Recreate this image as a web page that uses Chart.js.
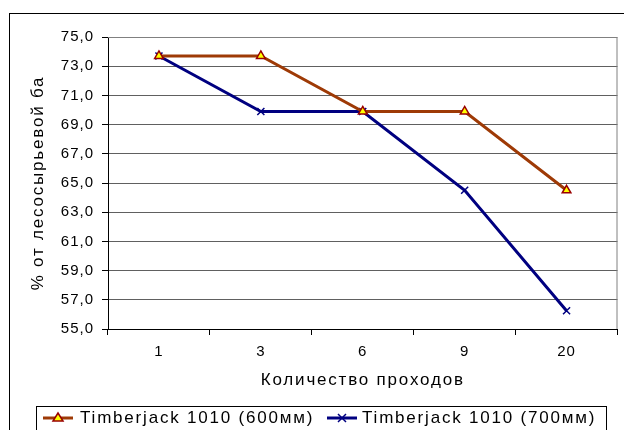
<!DOCTYPE html>
<html>
<head>
<meta charset="utf-8">
<script src="https://cdn.jsdelivr.net/npm/chart.js@4"></script>
<style>
    html, body { margin: 0; padding: 0; background: #fff; }
    #chart { display: block; }
</style>
</head>
<body>
<canvas id="chart" width="624" height="430"></canvas>
<script>
const categories = ['1', '3', '6', '9', '20'];
const series600 = [73.7, 73.7, 69.9, 69.9, 64.5];
const series700 = [73.7, 69.9, 69.9, 64.5, 56.25];
const seriesNames = ['Timberjack 1010 (600мм)', 'Timberjack 1010 (700мм)'];
const yTitle = '% от лесосырьевой ба';
const xTitle = 'Количество проходов';

const FONT = 'Arial, "Liberation Sans", sans-serif';
const ORANGE = '#9E3A06';
const NAVY = '#000080';

// wide-spaced text like the original Excel picture
const spacing = {
    id: 'spacing',
    beforeDraw(chart) {
        chart.ctx.letterSpacing = '1px';
    }
};

// axis titles, legend and the frames round the chart
const decorations = {
    id: 'decorations',
    afterDraw(chart) {
        const ctx = chart.ctx;
        const a = chart.chartArea;
        ctx.save();
        ctx.strokeStyle = '#000';
        ctx.lineWidth = 1;
        ctx.strokeRect(9.5, 13.5, 640, 440);
        ctx.strokeRect(36.5, 406.5, 570, 30);

        // plot area frame on top and right
        ctx.strokeStyle = '#808080';
        ctx.beginPath();
        ctx.moveTo(a.left, a.top + 0.5);
        ctx.lineTo(a.right - 0.5, a.top + 0.5);
        ctx.lineTo(a.right - 0.5, a.bottom);
        ctx.stroke();

        ctx.fillStyle = '#000';
        ctx.font = '17px ' + FONT;
        ctx.letterSpacing = '1.8px';
        ctx.textBaseline = 'middle';
        ctx.textAlign = 'center';
        ctx.fillText(xTitle, (a.left + a.right) / 2, 380);

        ctx.save();
        ctx.translate(38, (a.top + a.bottom) / 2);
        ctx.rotate(-Math.PI / 2);
        ctx.fillText(yTitle, 0, 0);
        ctx.restore();

        const y = 418;
        const items = [
            { x0: 43, x1: 73, tx: 80, color: ORANGE, name: seriesNames[0], marker: 'tri' },
            { x0: 327, x1: 357, tx: 362, color: NAVY, name: seriesNames[1], marker: 'cross' }
        ];
        items.forEach(it => {
            ctx.strokeStyle = it.color;
            ctx.lineWidth = 3;
            ctx.beginPath();
            ctx.moveTo(it.x0, y);
            ctx.lineTo(it.x1, y);
            ctx.stroke();
            const cx = (it.x0 + it.x1) / 2;
            if (it.marker === 'tri') {
                ctx.beginPath();
                ctx.moveTo(cx, y - 5);
                ctx.lineTo(cx + 5, y + 3);
                ctx.lineTo(cx - 5, y + 3);
                ctx.closePath();
                ctx.fillStyle = '#FFFF00';
                ctx.fill();
                ctx.strokeStyle = '#990000';
                ctx.lineWidth = 1.5;
                ctx.stroke();
            } else {
                ctx.lineWidth = 1.5;
                ctx.beginPath();
                ctx.moveTo(cx - 4, y - 4);
                ctx.lineTo(cx + 4, y + 4);
                ctx.moveTo(cx + 4, y - 4);
                ctx.lineTo(cx - 4, y + 4);
                ctx.stroke();
            }
            ctx.fillStyle = '#000';
            ctx.textAlign = 'left';
            ctx.fillText(it.name, it.tx, y);
        });
        ctx.restore();
    }
};

new Chart(document.getElementById('chart'), {
    type: 'line',
    data: {
        labels: categories,
        datasets: [
            {
                label: seriesNames[0],
                data: series600,
                borderColor: ORANGE,
                borderWidth: 3,
                pointStyle: 'triangle',
                pointRadius: 5,
                pointBackgroundColor: '#FFFF00',
                pointBorderColor: '#990000',
                pointBorderWidth: 1.5,
                tension: 0
            },
            {
                label: seriesNames[1],
                data: series700,
                borderColor: NAVY,
                borderWidth: 3,
                pointStyle: 'crossRot',
                pointRadius: 5,
                pointBorderColor: NAVY,
                pointBorderWidth: 1.5,
                tension: 0
            }
        ]
    },
    options: {
        responsive: false,
        animation: false,
        layout: { padding: { left: 0, top: 37, right: 1, bottom: 38 } },
        plugins: {
            legend: { display: false },
            tooltip: { enabled: false }
        },
        scales: {
            x: {
                offset: true,
                grid: {
                    offset: true,
                    drawOnChartArea: false,
                    drawTicks: true,
                    tickLength: 6,
                    color: '#000'
                },
                border: { color: '#000', width: 1 },
                ticks: {
                    color: '#000',
                    font: { family: FONT, size: 15 },
                    padding: 8
                },
                afterFit(scale) { scale.height = 63; }
            },
            y: {
                min: 55,
                max: 75,
                ticks: {
                    stepSize: 2,
                    color: '#000',
                    font: { family: FONT, size: 15 },
                    padding: 8,
                    callback: v => v.toFixed(1).replace('.', ',')
                },
                grid: {
                    color: '#606060',
                    tickLength: 6,
                    tickColor: '#000'
                },
                border: { color: '#000', width: 1 },
                afterFit(scale) { scale.width = 108; }
            }
        }
    },
    plugins: [spacing, decorations]
});
</script>
</body>
</html>
